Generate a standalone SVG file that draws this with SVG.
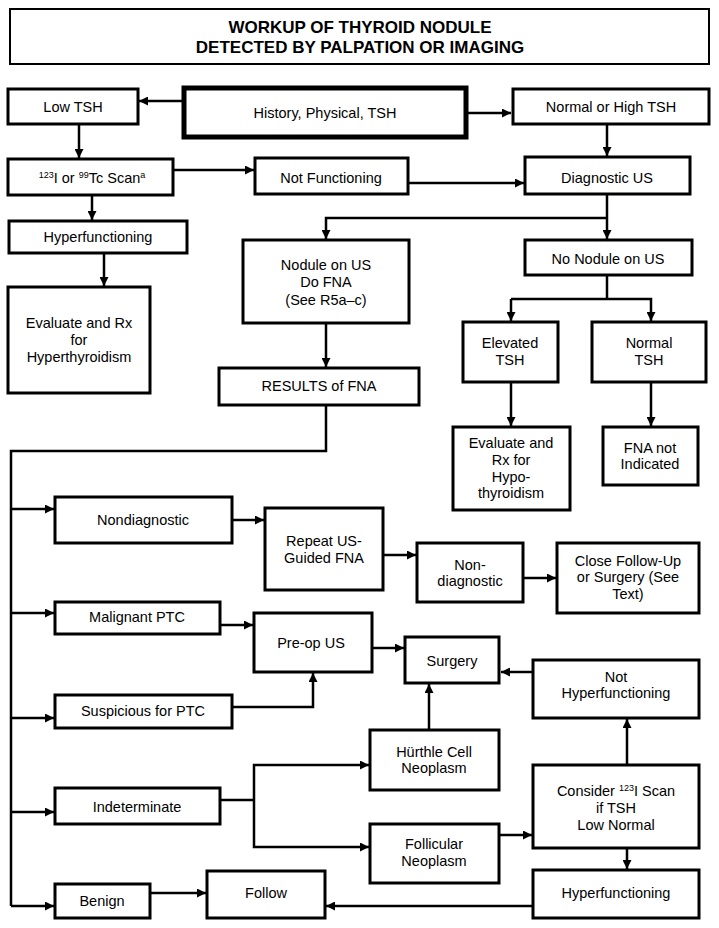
<svg xmlns="http://www.w3.org/2000/svg" width="719" height="928" viewBox="0 0 719 928">
<style>
.b{fill:#fff;stroke:#000;stroke-width:3}
.bt{fill:#fff;stroke:#000;stroke-width:5}
.t{font-family:"Liberation Sans",Arial,sans-serif;font-size:14.5px;fill:#000;text-anchor:middle}
.h{font-family:"Liberation Sans",Arial,sans-serif;font-size:17px;font-weight:bold;fill:#000;text-anchor:middle}
.s{font-size:9px}
.c{fill:none;stroke:#000;stroke-width:2.5}
.a{marker-end:url(#ah)}
</style>
<defs>
<marker id="ah" viewBox="0 0 10 10" refX="10" refY="5" markerWidth="10" markerHeight="9" markerUnits="userSpaceOnUse" orient="auto">
<path d="M0,0 L10,5 L0,10 z" fill="#000"/>
</marker>
</defs>
<rect width="719" height="928" fill="#fff"/>

<g id="connectors">
<path class="c a" d="M184,101 H139"/>
<path class="c a" d="M466,113 H511"/>
<path class="c a" d="M79,124 V158"/>
<path class="c a" d="M607,124 V156"/>
<path class="c a" d="M173,170 H254"/>
<path class="c a" d="M408,183 H524"/>
<path class="c a" d="M92,195 V220"/>
<path class="c a" d="M104,253 V286"/>
<path class="c a" d="M607,194 V239"/>
<path class="c a" d="M607,218 H326 V239"/>
<path class="c a" d="M326,323 V367"/>
<path class="c" d="M607,275 V299"/>
<path class="c a" d="M511,299 H651 V321"/>
<path class="c a" d="M511,299 V321"/>
<path class="c a" d="M511,382 V426"/>
<path class="c a" d="M651,382 V426"/>
<path class="c" d="M326,405 V451 H11 V906"/>
<path class="c a" d="M11,509 H54"/>
<path class="c a" d="M11,613 H54"/>
<path class="c a" d="M11,718 H54"/>
<path class="c a" d="M11,812 H54"/>
<path class="c a" d="M11,906 H54"/>
<path class="c a" d="M232,520 H264"/>
<path class="c a" d="M383,555 H416"/>
<path class="c a" d="M523,578 H556"/>
<path class="c a" d="M220,625 H253"/>
<path class="c a" d="M372,648 H404"/>
<path class="c a" d="M533,672 H501"/>
<path class="c a" d="M232,707 H313 V673"/>
<path class="c a" d="M429,730 V684"/>
<path class="c" d="M220,800 H254"/>
<path class="c a" d="M254,800 V765 H369"/>
<path class="c a" d="M254,800 V847 H369"/>
<path class="c a" d="M499,835 H532"/>
<path class="c a" d="M627,765 V719"/>
<path class="c a" d="M627,848 V869"/>
<path class="c a" d="M533,906 H326"/>
<path class="c a" d="M150,893 H206"/>
</g>

<g id="title">
<rect class="b" x="10" y="9" width="699" height="55" style="stroke-width:2"/>
<text class="h" x="360" y="33">WORKUP OF THYROID NODULE</text>
<text class="h" x="360" y="53">DETECTED BY PALPATION OR IMAGING</text>
</g>

<g id="low-tsh"><rect class="b" x="8" y="89" width="130" height="35"/><text class="t" x="73" y="112">Low TSH</text></g>
<g id="history"><rect class="bt" x="184" y="88" width="282" height="49"/><text class="t" x="325" y="118">History, Physical, TSH</text></g>
<g id="normal-high-tsh"><rect class="b" x="513" y="89" width="196" height="35"/><text class="t" x="611" y="112">Normal or High TSH</text></g>

<g id="scan"><rect class="b" x="8" y="159" width="165" height="36"/><text class="t" x="92" y="183"><tspan class="s" dy="-5">123</tspan><tspan dy="5">I or </tspan><tspan class="s" dy="-5">99</tspan><tspan dy="5">Tc Scan</tspan><tspan class="s" dy="-5">a</tspan></text></g>
<g id="not-functioning"><rect class="b" x="255" y="158" width="153" height="36"/><text class="t" x="331" y="183">Not Functioning</text></g>
<g id="diagnostic-us"><rect class="b" x="525" y="157" width="165" height="37"/><text class="t" x="607" y="183">Diagnostic US</text></g>

<g id="hyperfunctioning-1"><rect class="b" x="9" y="221" width="178" height="32"/><text class="t" x="98" y="242">Hyperfunctioning</text></g>
<g id="evaluate-hyper"><rect class="b" x="8" y="287" width="142" height="106"/><text class="t" x="79" y="328">Evaluate and Rx</text><text class="t" x="79" y="345">for</text><text class="t" x="79" y="362">Hyperthyroidism</text></g>

<g id="nodule-on-us"><rect class="b" x="243" y="240" width="166" height="83"/><text class="t" x="326" y="270">Nodule on US</text><text class="t" x="326" y="287">Do FNA</text><text class="t" x="326" y="305">(See R5a–c)</text></g>
<g id="no-nodule"><rect class="b" x="525" y="240" width="167" height="35"/><text class="t" x="608" y="264">No Nodule on US</text></g>
<g id="results"><rect class="b" x="219" y="368" width="200" height="37"/><text class="t" x="319" y="391">RESULTS of FNA</text></g>

<g id="elevated-tsh"><rect class="b" x="463" y="322" width="95" height="60"/><text class="t" x="510" y="348">Elevated</text><text class="t" x="510" y="365">TSH</text></g>
<g id="normal-tsh"><rect class="b" x="592" y="322" width="114" height="60"/><text class="t" x="649" y="348">Normal</text><text class="t" x="649" y="365">TSH</text></g>
<g id="evaluate-hypo"><rect class="b" x="453" y="427" width="117" height="83"/><text class="t" x="511" y="448">Evaluate and</text><text class="t" x="511" y="465">Rx for</text><text class="t" x="511" y="482">Hypo-</text><text class="t" x="511" y="498">thyroidism</text></g>
<g id="fna-not-indicated"><rect class="b" x="603" y="427" width="95" height="58"/><text class="t" x="650" y="453">FNA not</text><text class="t" x="650" y="469">Indicated</text></g>

<g id="nondiagnostic"><rect class="b" x="55" y="497" width="177" height="46"/><text class="t" x="143" y="525">Nondiagnostic</text></g>
<g id="repeat-fna"><rect class="b" x="265" y="508" width="118" height="82"/><text class="t" x="324" y="546">Repeat US-</text><text class="t" x="324" y="563">Guided FNA</text></g>
<g id="non-diagnostic-2"><rect class="b" x="417" y="543" width="106" height="59"/><text class="t" x="470" y="570">Non-</text><text class="t" x="470" y="586">diagnostic</text></g>
<g id="close-follow-up"><rect class="b" x="557" y="543" width="142" height="70"/><text class="t" x="628" y="566">Close Follow-Up</text><text class="t" x="628" y="582">or Surgery (See</text><text class="t" x="628" y="599">Text)</text></g>

<g id="malignant-ptc"><rect class="b" x="55" y="602" width="165" height="32"/><text class="t" x="137" y="622">Malignant PTC</text></g>
<g id="pre-op-us"><rect class="b" x="254" y="613" width="118" height="59"/><text class="t" x="311" y="648">Pre-op US</text></g>
<g id="surgery"><rect class="b" x="405" y="637" width="94" height="46"/><text class="t" x="452" y="666">Surgery</text></g>
<g id="not-hyperfunctioning"><rect class="b" x="533" y="660" width="166" height="58"/><text class="t" x="616" y="682">Not</text><text class="t" x="616" y="698">Hyperfunctioning</text></g>
<g id="suspicious-ptc"><rect class="b" x="55" y="695" width="177" height="33"/><text class="t" x="143" y="716">Suspicious for PTC</text></g>

<g id="hurthle"><rect class="b" x="370" y="730" width="129" height="60"/><text class="t" x="434" y="757">Hürthle Cell</text><text class="t" x="434" y="773">Neoplasm</text></g>
<g id="indeterminate"><rect class="b" x="55" y="788" width="165" height="36"/><text class="t" x="137" y="812">Indeterminate</text></g>
<g id="follicular"><rect class="b" x="370" y="824" width="129" height="59"/><text class="t" x="434" y="849">Follicular</text><text class="t" x="434" y="866">Neoplasm</text></g>
<g id="consider-scan"><rect class="b" x="533" y="765" width="166" height="83"/><text class="t" x="616" y="796">Consider <tspan class="s" dy="-5">123</tspan><tspan dy="5">I Scan</tspan></text><text class="t" x="616" y="813">if TSH</text><text class="t" x="616" y="830">Low Normal</text></g>

<g id="benign"><rect class="b" x="55" y="884" width="95" height="34"/><text class="t" x="102" y="906">Benign</text></g>
<g id="follow"><rect class="b" x="207" y="871" width="118" height="47"/><text class="t" x="266" y="898">Follow</text></g>
<g id="hyperfunctioning-2"><rect class="b" x="533" y="870" width="166" height="48"/><text class="t" x="616" y="898">Hyperfunctioning</text></g>
</svg>
